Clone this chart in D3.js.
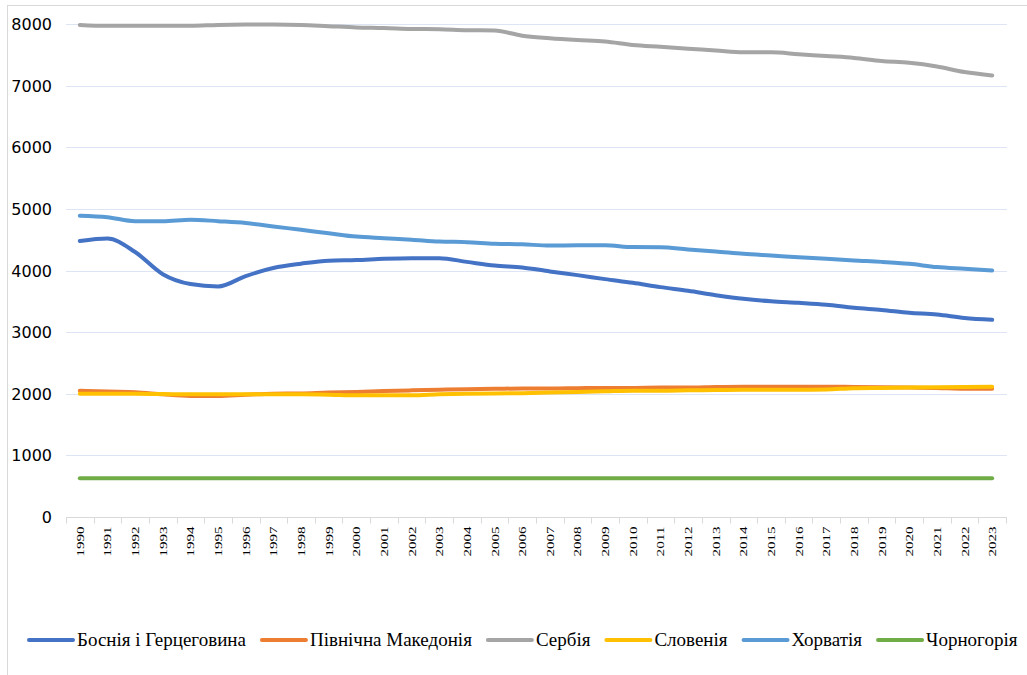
<!DOCTYPE html>
<html>
<head>
<meta charset="utf-8">
<script src="https://cdn.jsdelivr.net/npm/d3@7"></script>
<style>
  body { margin: 0; background: #fff; }
  svg { display: block; }
</style>
</head>
<body>
<svg width="1027" height="675"></svg>
<script>
const years = d3.range(1990, 2024).map(String);

const bosnia = [4480, 4520, 4300, 3940, 3780, 3740, 3910, 4040, 4110, 4160, 4170, 4190, 4200, 4200, 4140, 4080, 4050,
    3985, 3925, 3860, 3800, 3730, 3670, 3600, 3540, 3500, 3475, 3445, 3395, 3360, 3315, 3285, 3230, 3200];
const macedonia = [2050, 2035, 2025, 1990, 1965, 1965, 1985, 2000, 2005, 2020, 2030, 2045, 2055, 2065, 2075, 2080, 2085,
    2085, 2090, 2095, 2095, 2100, 2100, 2110, 2115, 2115, 2115, 2115, 2110, 2105, 2100, 2095, 2080, 2080];
const serbia = [7985, 7970, 7970, 7970, 7970, 7985, 7990, 7990, 7985, 7965, 7945, 7935, 7920, 7915, 7900, 7895, 7810,
    7770, 7740, 7715, 7660, 7630, 7600, 7570, 7540, 7540, 7510, 7480, 7450, 7400, 7370, 7310, 7220, 7165];
const slovenia = [2000, 2000, 2000, 1995, 1990, 1990, 1990, 1990, 1990, 1985, 1975, 1975, 1975, 1990, 2000, 2005, 2010,
    2020, 2030, 2040, 2050, 2050, 2055, 2060, 2065, 2065, 2065, 2070, 2090, 2095, 2100, 2105, 2110, 2115];
const croatia = [4890, 4865, 4800, 4800, 4825, 4800, 4770, 4715, 4660, 4605, 4550, 4525, 4500, 4470, 4460, 4435, 4425,
    4405, 4410, 4410, 4380, 4378, 4340, 4308, 4270, 4243, 4216, 4189, 4162, 4140, 4108, 4055, 4027, 4000];
const montenegro = [630, 630, 630, 630, 630, 630, 630, 630, 630, 630, 630, 630, 630, 630, 630, 630, 630,
    630, 630, 630, 630, 630, 630, 630, 630, 630, 630, 630, 630, 630, 630, 630, 630, 630];

const yTicks = [0, 1000, 2000, 3000, 4000, 5000, 6000, 7000, 8000];

const series = [
    { name: "Боснія і Герцеговина", values: bosnia, color: "#4472c4" },
    { name: "Північна Македонія", values: macedonia, color: "#ed7d31" },
    { name: "Сербія", values: serbia, color: "#a5a5a5" },
    { name: "Словенія", values: slovenia, color: "#ffc000" },
    { name: "Хорватія", values: croatia, color: "#5b9bd5" },
    { name: "Чорногорія", values: montenegro, color: "#70ad47" }
];

const svg = d3.select("svg");

// chart area border (only left and top edges are visible)
svg.append("rect")
    .attr("x", 7.5).attr("y", 5.5)
    .attr("width", 1200).attr("height", 800)
    .attr("fill", "none")
    .attr("stroke", "#d9d9d9");

const x = d3.scaleBand().domain(years).range([66, 1006]);
const y = d3.scaleLinear().domain([0, 8000]).range([517, 24]);

// gridlines
svg.append("g")
    .selectAll("line")
    .data(yTicks.filter(d => d > 0))
    .enter().append("line")
    .attr("x1", 66).attr("x2", 1007)
    .attr("y1", d => Math.round(y(d)) + 0.5)
    .attr("y2", d => Math.round(y(d)) + 0.5)
    .attr("stroke", "#dde4f3")
    .attr("stroke-width", 1);

// y axis labels
svg.append("g")
    .selectAll("text")
    .data(yTicks)
    .enter().append("text")
    .attr("x", 52)
    .attr("y", d => y(d) + 6)
    .attr("text-anchor", "end")
    .attr("font-family", "DejaVu Sans")
    .attr("font-size", 16)
    .attr("fill", "#000")
    .text(d => d);

// x axis
const xAxis = svg.append("g")
    .attr("transform", "translate(0,517.5)");
xAxis.append("line")
    .attr("x1", 66).attr("x2", 1007)
    .attr("stroke", "#d9d9d9");
xAxis.selectAll(".tick")
    .data(years.concat(["end"]))
    .enter().append("line")
    .attr("x1", (d, i) => Math.round(66 + i * x.step()) + 0.5)
    .attr("x2", (d, i) => Math.round(66 + i * x.step()) + 0.5)
    .attr("y1", 0).attr("y2", 6)
    .attr("stroke", "#d9d9d9");
xAxis.selectAll("text")
    .data(years)
    .enter().append("text")
    .attr("transform", d => `translate(${x(d) + x.bandwidth() / 2 + 4},9) rotate(-90)`)
    .attr("text-anchor", "end")
    .attr("font-family", "Liberation Serif")
    .attr("font-size", 11)
    .attr("textLength", 30)
    .attr("lengthAdjust", "spacingAndGlyphs")
    .attr("fill", "#000")
    .text(d => d);

const line = d3.line()
    .x((d, i) => x(years[i]) + x.bandwidth() / 2)
    .y(d => y(d))
    .curve(d3.curveMonotoneX);

series.forEach(s => {
    svg.append("path")
        .datum(s.values)
        .attr("fill", "none")
        .attr("stroke", s.color)
        .attr("stroke-width", 4)
        .attr("stroke-linecap", "round")
        .attr("stroke-linejoin", "round")
        .attr("d", line);
});

// legend
const legend = svg.append("g").attr("transform", "translate(0,640)");
let cx = 27;
series.forEach(s => {
    const g = legend.append("g").attr("transform", `translate(${cx},0)`);
    g.append("line")
        .attr("x1", 2).attr("x2", 46)
        .attr("stroke", s.color)
        .attr("stroke-width", 4)
        .attr("stroke-linecap", "round");
    const t = g.append("text")
        .attr("x", 50)
        .attr("y", 6)
        .attr("font-family", "Liberation Serif")
        .attr("font-size", 19)
        .attr("fill", "#000")
        .text(s.name);
    cx += 50 + t.node().getComputedTextLength() + 14;
});
</script>
</body>
</html>
